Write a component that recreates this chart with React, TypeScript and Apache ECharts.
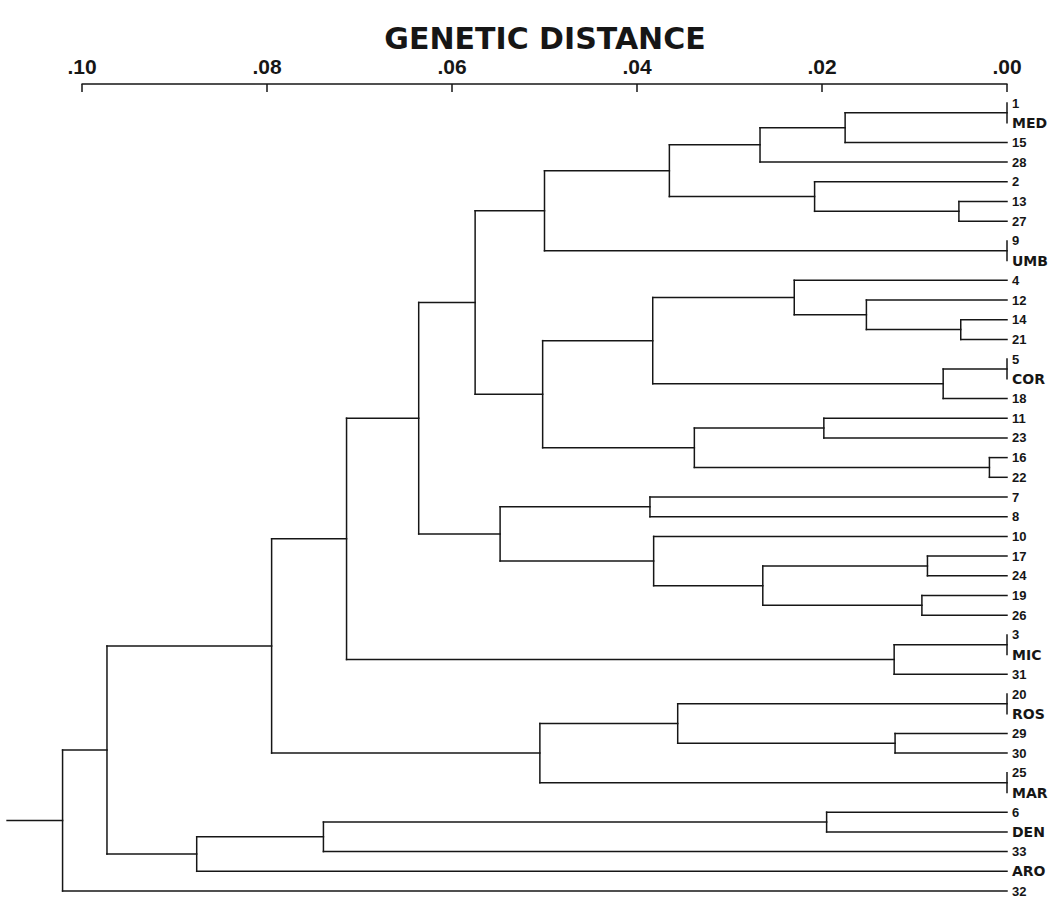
import React, { useEffect, useRef } from "react";
import * as echarts from "echarts";

// Leaf order, top to bottom
const leafNames = [
  "1", "MED", "15", "28", "2", "13", "27", "9", "UMB", "4", "12", "14", "21",
  "5", "COR", "18", "11", "23", "16", "22", "7", "8", "10", "17", "24", "19",
  "26", "3", "MIC", "31", "20", "ROS", "29", "30", "25", "MAR", "6", "DEN",
  "33", "ARO", "32",
];
const groupLabels = ["MED", "UMB", "COR", "MIC", "ROS", "MAR", "DEN", "ARO"];

// Agglomeration steps: node n(i+1) = mergeA[i] + mergeB[i] at mergeDistance[i]
const mergeA = [
  "1", "n1", "n2", "13", "2", "n3", "9", "n6", "14", "12", "4", "5", "n12",
  "n11", "11", "16", "n15", "n14", "n8", "7", "17", "19", "n21", "10", "n20",
  "n19", "3", "n27", "n26", "20", "29", "n30", "25", "n32", "n29", "6", "n36",
  "n37", "n35", "n39",
];
const mergeB = [
  "MED", "15", "28", "27", "n4", "n5", "UMB", "n7", "21", "n9", "n10", "COR",
  "18", "n13", "23", "22", "n16", "n17", "n18", "8", "24", "26", "n22", "n23",
  "n24", "n25", "MIC", "31", "n28", "ROS", "30", "n31", "MAR", "n33", "n34",
  "DEN", "33", "ARO", "n38", "32",
];
const mergeDistance = [
  0, 0.0175, 0.0267, 0.0052, 0.0208, 0.0365, 0, 0.05, 0.005, 0.0152, 0.023, 0,
  0.0069, 0.0383, 0.0198, 0.0019, 0.0338, 0.0502, 0.0575, 0.0386, 0.0086,
  0.0092, 0.0264, 0.0382, 0.0548, 0.0636, 0, 0.0122, 0.0714, 0, 0.0121, 0.0356,
  0, 0.0505, 0.0795, 0.0195, 0.0739, 0.0876, 0.0973, 0.1021,
];
const rootStubEnd = 0.1081;

const axisTicks = [0, 0.02, 0.04, 0.06, 0.08, 0.1];
const titleText = "GENETIC DISTANCE";

function buildSegments() {
  const pos: Record<string, { y: number; h: number }> = {};
  leafNames.forEach((n, i) => (pos[n] = { y: i, h: 0 }));
  const segs: number[][] = [];
  let last = "";
  mergeA.forEach((a, i) => {
    const b = mergeB[i];
    const h = mergeDistance[i];
    const pa = pos[a];
    const pb = pos[b];
    segs.push([h, pa.y, h, pb.y]);
    segs.push([h, pa.y, pa.h, pa.y]);
    segs.push([h, pb.y, pb.h, pb.y]);
    const id = "n" + (i + 1);
    pos[id] = { y: (pa.y + pb.y) / 2, h };
    last = id;
  });
  const root = pos[last];
  segs.push([rootStubEnd, root.y, root.h, root.y]);
  return segs;
}

export default function App() {
  const ref = useRef<HTMLDivElement>(null);
  useEffect(() => {
    if (!ref.current) return;
    const chart = echarts.init(ref.current, null, { renderer: "svg" });
    const segs = buildSegments();
    const labelData = leafNames.map((_, i) => [0, i]);
    chart.setOption({
      animation: false,
      backgroundColor: "#ffffff",
      graphic: [
        {
          type: "text",
          x: 545,
          y: 38,
          style: {
            text: titleText,
            align: "center",
            verticalAlign: "middle",
            textAlign: "center",
            textVerticalAlign: "middle",
            fontFamily: "DejaVu Sans",
            fontWeight: "bold",
            fontSize: 30,
            fill: "#161616",
          },
        },
      ],
      grid: { left: 82, right: 54, top: 103, bottom: 12 },
      xAxis: {
        type: "value",
        position: "top",
        inverse: true,
        min: axisTicks[0],
        max: axisTicks[axisTicks.length - 1],
        interval: 0.02,
        offset: 19,
        axisLine: { show: true, onZero: false, lineStyle: { color: "#161616", width: 1.5 } },
        axisTick: { show: true, inside: true, length: 8, lineStyle: { color: "#161616", width: 1.5 } },
        splitLine: { show: false },
        axisLabel: {
          margin: 7,
          color: "#161616",
          fontFamily: "Liberation Sans",
          fontWeight: "bold",
          fontSize: 21,
          formatter: (v: number) => "." + String(Math.round(v * 100)).padStart(2, "0"),
        },
      },
      yAxis: {
        type: "value",
        inverse: true,
        min: 0,
        max: leafNames.length - 1,
        show: false,
      },
      series: [
        {
          type: "custom",
          data: segs,
          encode: { x: [0, 2], y: [1, 3] },
          clip: false,
          silent: true,
          renderItem: (params: any, api: any) => {
            const p1 = api.coord([api.value(0), api.value(1)]);
            const p2 = api.coord([api.value(2), api.value(3)]);
            return {
              type: "line",
              shape: { x1: p1[0], y1: p1[1], x2: p2[0], y2: p2[1] },
              style: { stroke: "#161616", lineWidth: 1.5, lineCap: "square" },
            };
          },
        },
        {
          type: "custom",
          data: labelData,
          encode: { x: 0, y: 1 },
          clip: false,
          silent: true,
          renderItem: (params: any, api: any) => {
            const p = api.coord([api.value(0), api.value(1)]);
            const name = leafNames[params.dataIndex];
            const isGroup = groupLabels.indexOf(name) >= 0;
            return {
              type: "text",
              x: p[0] + 5,
              y: p[1],
              style: {
                text: name,
                align: "left",
                verticalAlign: "middle",
                fill: "#161616",
                fontFamily: isGroup ? "DejaVu Sans" : "Liberation Sans",
                fontWeight: "bold",
                fontSize: isGroup ? 14 : 13,
              },
            };
          },
        },
      ],
    });
    return () => chart.dispose();
  }, []);
  return (
    <div
      ref={ref}
      style={{ position: "fixed", left: 0, top: 0, width: 1061, height: 903, background: "#fff" }}
    />
  );
}
